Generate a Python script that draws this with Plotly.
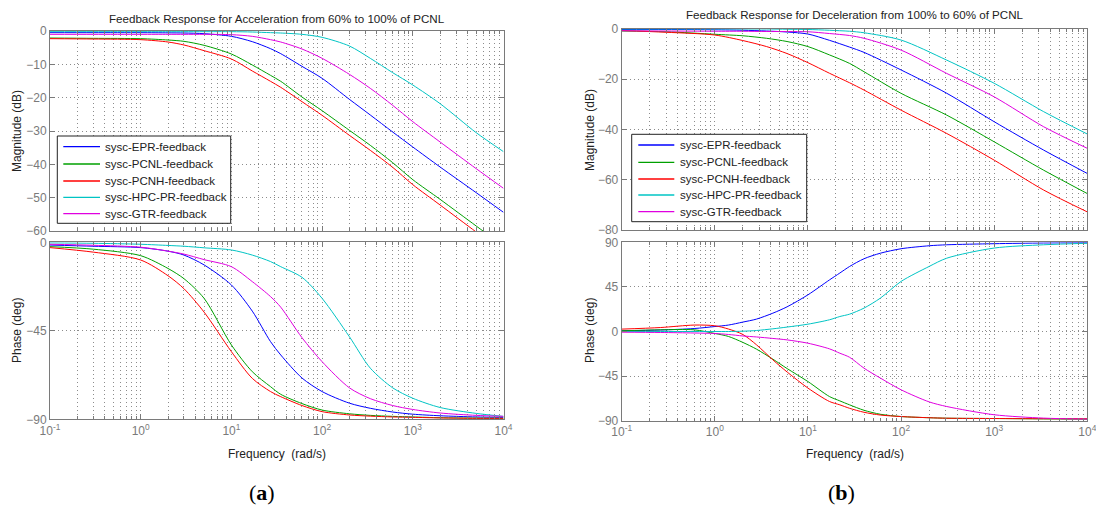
import plotly.graph_objects as go

# ---------------- data ----------------
names = ["sysc-EPR-feedback", "sysc-PCNL-feedback", "sysc-PCNH-feedback",
         "sysc-HPC-PR-feedback", "sysc-GTR-feedback"]
colors = ["#0000ff", "#00a000", "#ff0000", "#00c4c4", "#e000e0"]

# (a) acceleration, magnitude [dB]
freq_a = [0.1, 0.3, 1, 2, 3, 5, 10, 17, 27, 35, 60, 100, 200, 340, 600, 1000, 2000, 5000, 10000]
mag_a_epr = [-0.5, -0.5, -0.5, -0.55, -0.6, -0.8, -1.6, -3.2, -5.3, -6.8, -10.6, -14.2, -20.5, -25.2, -30.3, -34.8, -40.8, -48.5, -54.4]
mag_a_pcnl = [-2.1, -2.2, -2.3, -2.7, -3.1, -4.3, -6.9, -10.2, -13.3, -15.1, -19.8, -23.9, -29.8, -34.3, -39.5, -44.6, -50.5, -58.5, -64.5]
mag_a_pcnh = [-2.3, -2.4, -2.6, -3.3, -4.2, -5.9, -8.4, -12.0, -15.1, -16.9, -21.2, -25.3, -31.3, -35.8, -40.9, -46.1, -52.2, -60.3, -66.3]
mag_a_hpc = [-0.2, -0.2, -0.2, -0.2, -0.2, -0.2, -0.2, -0.3, -0.5, -0.6, -1.0, -1.9, -4.5, -8.2, -12.5, -16.2, -21.8, -30.5, -36.2]
mag_a_gtr = [-1.0, -1.0, -1.0, -1.0, -1.0, -1.0, -1.1, -1.6, -2.6, -3.3, -5.4, -8.2, -13.0, -17.2, -22.3, -27.2, -33.3, -41.3, -47.2]

# (a) acceleration, phase [deg]
freq_a_ph = [0.1, 0.3, 1, 2, 3, 5, 10, 17, 27, 35, 60, 100, 200, 340, 600, 1000, 2000, 5000, 10000]
ph_a_epr = [-1.4, -2.0, -2.7, -4.5, -6.5, -11.5, -21.7, -35.0, -50.5, -57.3, -69.0, -75.9, -81.8, -84.4, -86.3, -87.4, -88.2, -88.8, -89.0]
ph_a_pcnl = [-2.2, -3.5, -6.8, -13.3, -18.5, -28.5, -52.2, -65.8, -73.4, -77.3, -82.0, -85.3, -87.2, -88.0, -88.5, -88.8, -89.2, -89.4, -89.5]
ph_a_pcnh = [-2.7, -5.0, -9.0, -17.0, -23.6, -35.5, -55.6, -69.2, -75.9, -78.5, -83.0, -86.1, -87.8, -88.4, -88.8, -89.0, -89.3, -89.5, -89.5]
ph_a_hpc = [-0.3, -0.5, -1.0, -1.6, -2.0, -2.8, -3.9, -6.5, -9.8, -12.4, -17.8, -28.5, -48.0, -64.0, -74.0, -79.3, -84.0, -87.0, -88.5]
ph_a_gtr = [-1.0, -1.5, -2.5, -4.5, -6.0, -8.8, -12.4, -20.0, -27.6, -33.0, -48.5, -60.7, -74.0, -79.5, -83.0, -85.0, -86.8, -88.0, -88.5]

# (b) deceleration, magnitude [dB]
freq_b = [0.1, 0.3, 1, 2, 3.6, 6, 10, 17, 28, 40, 100, 310, 1000, 3400, 10000]
mag_b_epr = [-0.2, -0.2, -0.3, -0.5, -0.8, -1.2, -2.0, -4.5, -7.2, -9.3, -16.3, -25.6, -36.9, -48.2, -57.5]
mag_b_pcnl = [-0.8, -1.1, -2.1, -2.7, -3.7, -5.0, -7.0, -10.3, -13.7, -17.0, -25.6, -34.3, -44.9, -56.2, -65.5]
mag_b_pcnh = [-0.6, -1.3, -2.4, -4.6, -7.0, -9.8, -13.4, -17.6, -21.4, -24.3, -32.3, -41.6, -52.2, -64.1, -72.8]
mag_b_hpc = [0.0, 0.0, 0.0, 0.0, 0.0, -0.1, -0.2, -0.5, -0.9, -1.5, -4.4, -12.4, -21.6, -32.9, -41.8]
mag_b_gtr = [-0.7, -0.8, -0.9, -0.9, -1.0, -1.0, -1.1, -1.8, -2.6, -3.7, -8.4, -17.7, -27.0, -38.9, -47.5]

# (b) deceleration, phase [deg]
freq_b_ph = [0.1, 0.26, 0.6, 1, 1.4, 2, 2.8, 4.2, 6, 10, 17, 22, 28, 40, 60, 100, 200, 310, 1000, 3400, 10000]
ph_b_epr = [0.7, 1.5, 3.0, 5.0, 6.5, 9.5, 12.5, 18.5, 25.0, 37.0, 52.0, 59.0, 65.6, 73.4, 79.0, 83.5, 86.5, 87.5, 88.6, 89.3, 89.6]
ph_b_pcnl = [0.7, 1.7, 1.7, -2.0, -5.0, -11.0, -17.8, -27.9, -37.5, -50.5, -65.6, -70.0, -74.0, -79.5, -83.5, -85.8, -87.0, -87.5, -87.8, -88.2, -88.5]
ph_b_pcnh = [2.4, 4.0, 6.5, 5.8, 2.5, -3.0, -13.4, -28.6, -41.0, -57.1, -70.6, -74.0, -77.5, -81.5, -84.3, -85.8, -87.0, -87.5, -87.8, -88.0, -88.0]
ph_b_hpc = [0.0, 0.0, 0.0, 0.0, 0.0, 0.3, 1.0, 2.7, 4.5, 7.4, 11.8, 15.1, 17.5, 23.6, 33.7, 50.5, 65.6, 74.0, 84.2, 87.5, 89.0]
ph_b_gtr = [-0.7, -1.0, -1.5, -2.0, -3.0, -4.5, -5.5, -7.0, -8.5, -11.8, -17.5, -21.9, -26.0, -37.0, -47.0, -58.8, -71.0, -75.7, -84.0, -87.4, -88.4]

x_tickvals = [0.1, 1, 10, 100, 1000, 10000]
x_ticktext = ["10<sup>-1</sup>", "10<sup>0</sup>", "10<sup>1</sup>", "10<sup>2</sup>",
              "10<sup>3</sup>", "10<sup>4</sup>"]

title_a = "Feedback Response for Acceleration from 60% to 100% of PCNL"
title_b = "Feedback Response for Deceleration from 100% to 60% of PCNL"

# ---------------- figure ----------------
W, H = 1096, 509
fig = go.Figure()

mag_a = [mag_a_epr, mag_a_pcnl, mag_a_pcnh, mag_a_hpc, mag_a_gtr]
ph_a = [ph_a_epr, ph_a_pcnl, ph_a_pcnh, ph_a_hpc, ph_a_gtr]
mag_b = [mag_b_epr, mag_b_pcnl, mag_b_pcnh, mag_b_hpc, mag_b_gtr]
ph_b = [ph_b_epr, ph_b_pcnl, ph_b_pcnh, ph_b_hpc, ph_b_gtr]

LINE = dict(width=1, shape="spline", smoothing=0.8)
for xs, sets, xa, ya in ((freq_a, mag_a, "x", "y"), (freq_a_ph, ph_a, "x2", "y2"),
                         (freq_b, mag_b, "x3", "y3"), (freq_b_ph, ph_b, "x4", "y4")):
    for i in range(5):
        fig.add_trace(go.Scatter(x=xs, y=sets[i], name=names[i], mode="lines",
                                 line=dict(color=colors[i], **LINE),
                                 xaxis=xa, yaxis=ya, showlegend=False))

FONT = "Liberation Sans, Arial, sans-serif"
AX_COL = "#7a7a7a"
GRID_COL = "#8c8c8c"
DASH = "1px,3px"


def px_x(p):
    return p / W


def px_y(p):
    return 1 - p / H


def xaxis(dom, anchor, labels):
    return dict(type="log", range=[-1, 4], domain=dom, anchor=anchor, automargin=False,
                tickvals=x_tickvals, ticktext=x_ticktext, showticklabels=labels,
                ticklabeloverflow="allow",
                ticks="inside", ticklen=5, tickcolor=AX_COL,
                showline=True, linecolor=AX_COL, linewidth=1, mirror="ticks",
                showgrid=True, gridcolor=GRID_COL, griddash=DASH, gridwidth=1,
                minor=dict(dtick="D1", ticks="inside", ticklen=3, tickcolor=AX_COL,
                           showgrid=True, gridcolor=GRID_COL, griddash=DASH, gridwidth=1),
                tickfont=dict(family=FONT, size=12, color=AX_COL), zeroline=False)


def yaxis(dom, anchor, rng, tvals):
    return dict(range=rng, domain=dom, anchor=anchor, tickvals=tvals, automargin=False,
                ticklabeloverflow="allow",
                ticks="inside", ticklen=5, tickcolor=AX_COL,
                showline=True, linecolor=AX_COL, linewidth=1, mirror="ticks",
                showgrid=True, gridcolor=GRID_COL, griddash=DASH, gridwidth=1,
                tickfont=dict(family=FONT, size=12, color=AX_COL), zeroline=False)


xa_dom = [px_x(50), px_x(503.5)]
xb_dom = [px_x(621.7), px_x(1087.3)]

fig.update_layout(
    width=W, height=H, margin=dict(l=0, r=0, t=0, b=0, autoexpand=False),
    paper_bgcolor="white", plot_bgcolor="white", showlegend=False,
    xaxis=xaxis(xa_dom, "y", False),
    yaxis=yaxis([px_y(231), px_y(31)], "x", [-60, 0], [-60, -50, -40, -30, -20, -10, 0]),
    xaxis2=xaxis(xa_dom, "y2", True),
    yaxis2=yaxis([px_y(419.3), px_y(242.3)], "x2", [-90, 0], [-90, -45, 0]),
    xaxis3=xaxis(xb_dom, "y3", False),
    yaxis3=yaxis([px_y(230), px_y(29)], "x3", [-80, 0], [-80, -60, -40, -20, 0]),
    xaxis4=xaxis(xb_dom, "y4", True),
    yaxis4=yaxis([px_y(420.7), px_y(242.3)], "x4", [-90, 90], [-90, -45, 0, 45, 90]),
)

shapes = []
ann = []

# legends drawn as boxes inside the magnitude panels (box, sample line, label)
LFONT = dict(family=FONT, size=11.5, color="#222222")
legend_boxes = [
    # box left, top, right, bottom, line x0, line x1, text x, row centres
    (57.3, 136, 230.7, 223.3, 63.3, 100, 103.3, [146.7, 164, 181, 197.3, 213.7]),
    (631.7, 134.3, 806.7, 221.7, 638.3, 674.3, 678.3, [145, 162.3, 179, 195, 211.7]),
]
for bx0, by0, bx1, by1, lx0, lx1, tx, rows in legend_boxes:
    shapes.append(dict(type="rect", xref="paper", yref="paper",
                       x0=px_x(bx0), x1=px_x(bx1), y0=px_y(by1), y1=px_y(by0),
                       line=dict(color="#222222", width=1), fillcolor="white", layer="above"))
    for i in range(5):
        shapes.append(dict(type="line", xref="paper", yref="paper",
                           x0=px_x(lx0), x1=px_x(lx1), y0=px_y(rows[i]), y1=px_y(rows[i]),
                           line=dict(color=colors[i], width=1.3), layer="above"))
        ann.append(dict(text=names[i], x=px_x(tx), y=px_y(rows[i]), xref="paper",
                        yref="paper", showarrow=False, font=LFONT,
                        xanchor="left", yanchor="middle"))

tfont = dict(family=FONT, size=11.6, color="#222222")
ann.append(dict(text=title_a, x=px_x(276.5), y=px_y(18), xref="paper", yref="paper",
                showarrow=False, font=tfont, xanchor="center", yanchor="middle"))
ann.append(dict(text=title_b, x=px_x(854.5), y=px_y(15), xref="paper", yref="paper",
                showarrow=False, font=tfont, xanchor="center", yanchor="middle"))
afont = dict(family=FONT, size=12, color="#222222")
for cx in (276.5, 854.5):
    ann.append(dict(text="Frequency&nbsp; (rad/s)", x=px_x(cx), y=px_y(454), xref="paper",
                    yref="paper", showarrow=False, font=afont, xanchor="center", yanchor="middle"))
for cx, my, py in ((17, 131, 331), (590, 130, 331)):
    ann.append(dict(text="Magnitude (dB)", x=px_x(cx), y=px_y(my), xref="paper", yref="paper",
                    showarrow=False, font=afont, textangle=-90, xanchor="center", yanchor="middle"))
    ann.append(dict(text="Phase (deg)", x=px_x(cx), y=px_y(py), xref="paper", yref="paper",
                    showarrow=False, font=afont, textangle=-90, xanchor="center", yanchor="middle"))
cfont = dict(family="Liberation Serif, DejaVu Serif, serif", size=22, color="black")
ann.append(dict(text="(<b>a</b>)", x=px_x(262), y=px_y(492), xref="paper", yref="paper",
                showarrow=False, font=cfont, xanchor="center", yanchor="middle"))
ann.append(dict(text="(<b>b</b>)", x=px_x(841), y=px_y(492), xref="paper", yref="paper",
                showarrow=False, font=cfont, xanchor="center", yanchor="middle"))
fig.update_layout(annotations=ann, shapes=shapes)

fig.write_html("out.html", config={"displayModeBar": False},
               post_script="document.body.style.margin='0';")
